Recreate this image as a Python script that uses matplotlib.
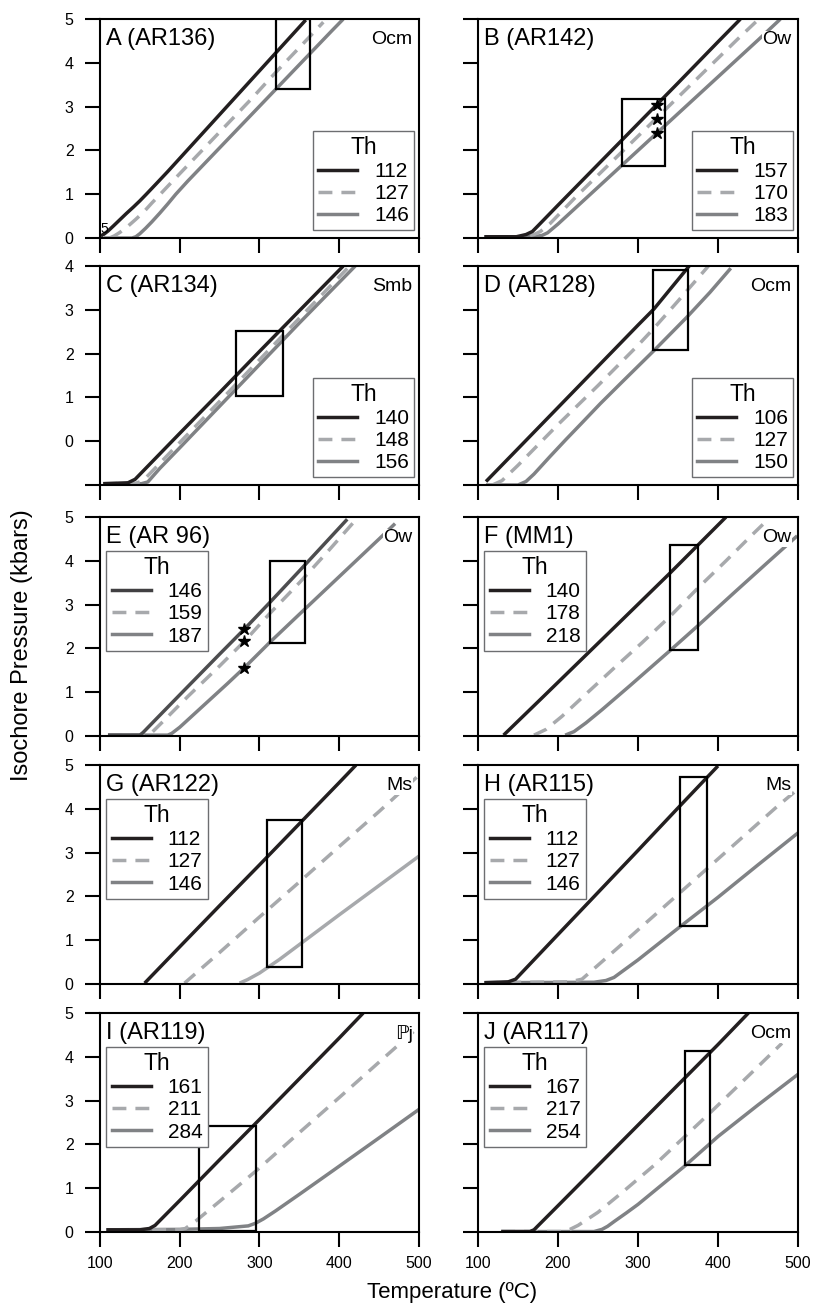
import matplotlib
matplotlib.use('Agg')
import matplotlib.pyplot as plt
from matplotlib.patches import Rectangle
from matplotlib.lines import Line2D

plt.rcParams['font.family'] = ['Liberation Sans', 'DejaVu Sans']

# ---- data: isochores (T in C, P in kbar) ----
# each panel: 3 curves (Th order), box = [Tmin, Tmax, Pmin, Pmax]
A_th = [112, 127, 146]
A_T = [[101, 105, 110, 117, 125, 133, 142, 150, 158, 170, 185, 200, 220, 240,
        260, 280, 300, 320, 340, 358],
       [112, 118, 125, 135, 145, 155, 165, 175, 190, 210, 230, 250, 270, 290,
        310, 330, 350, 363, 380],
       [105, 140, 145, 150, 157, 165, 175, 185, 195, 210, 230, 250, 270, 290,
        310, 330, 350, 370, 390, 405]]
A_P = [[0.05, 0.09, 0.16, 0.28, 0.42, 0.56, 0.71, 0.85, 1.0, 1.23, 1.52, 1.82,
        2.22, 2.62, 3.02, 3.42, 3.82, 4.22, 4.62, 4.98],
       [0.0, 0.05, 0.13, 0.27, 0.43, 0.6, 0.8, 0.99, 1.28, 1.66, 2.04, 2.42,
        2.8, 3.18, 3.58, 3.97, 4.35, 4.6, 4.93],
       [0.0, 0.0, 0.03, 0.1, 0.22, 0.37, 0.57, 0.78, 1.0, 1.3, 1.68, 2.06,
        2.44, 2.82, 3.2, 3.58, 3.96, 4.34, 4.72, 5.0]]
A_box = [321, 363, 3.4, 5.0]

B_th = [157, 170, 183]
B_T = [[108, 148, 160, 168, 175, 200, 250, 300, 350, 400, 428],
       [108, 160, 170, 178, 190, 225, 275, 325, 375, 425, 451],
       [108, 170, 180, 187, 200, 250, 300, 350, 400, 450, 478]]
B_P = [[0.03, 0.03, 0.08, 0.15, 0.28, 0.75, 1.68, 2.61, 3.54, 4.48, 5.0],
       [0.03, 0.03, 0.08, 0.15, 0.33, 0.99, 1.88, 2.77, 3.66, 4.55, 5.0],
       [0.03, 0.03, 0.06, 0.12, 0.32, 1.16, 2.0, 2.84, 3.68, 4.52, 5.0]]
B_box = [280, 334, 1.65, 3.17]
B_star_T = [323.5, 323.5, 323.5]
B_star_P = [3.03, 2.71, 2.40]

C_th = [140, 148, 156]
C_T = [[104, 135, 144, 160, 200, 250, 300, 350, 405],
       [104, 145, 154, 170, 200, 250, 300, 350, 413],
       [104, 152, 160, 175, 200, 250, 300, 350, 420]]
C_P = [[-0.97, -0.95, -0.87, -0.57, 0.18, 1.11, 2.05, 2.98, 4.0],
       [-0.97, -0.96, -0.9, -0.6, -0.03, 0.91, 1.86, 2.81, 4.0],
       [-0.97, -0.97, -0.93, -0.62, -0.15, 0.8, 1.75, 2.7, 4.0]]
C_box = [271, 329, 1.03, 2.52]

D_th = [106, 127, 150]
D_T = [[110, 150, 200, 250, 300, 320, 364],
       [118, 130, 150, 200, 250, 300, 319, 350, 388],
       [110, 150, 160, 170, 180, 190, 210, 230, 253, 280, 320, 361, 390, 416]]
D_P = [[0.08, 0.83, 1.77, 2.71, 3.65, 4.02, 5.0],
       [0, 0.1, 0.45, 1.38, 2.27, 3.19, 3.56, 4.2, 5.0],
       [0, 0, 0.08, 0.25, 0.45, 0.65, 1.04, 1.42, 1.86, 2.35, 3.07, 3.83,
        4.4, 4.95]]
D_box = [319, 362, 3.09, 4.9]

E_th = [146, 159, 187]
E_T = [[110, 150, 154, 170, 200, 250, 281, 313, 350, 380, 410],
       [110, 160, 165, 180, 210, 250, 282, 313, 350, 385, 418],
       [110, 185, 190, 200, 215, 230, 260, 281, 313, 350, 400, 450, 470]]
E_P = [[0.02, 0.02, 0.08, 0.38, 0.94, 1.87, 2.44, 3.05, 3.77, 4.36, 4.95],
       [0.02, 0.02, 0.08, 0.35, 0.9, 1.6, 2.18, 2.8, 3.5, 4.2, 4.88],
       [0.02, 0.02, 0.06, 0.2, 0.45, 0.7, 1.2, 1.56, 2.14, 2.78, 3.64, 4.5,
        4.85]]
E_box = [313, 357, 2.12, 3.99]
E_star_T = [281, 281, 281]
E_star_P = [2.44, 2.18, 1.56]

F_th = [140, 178, 218]
F_T = [[132, 180, 230, 280, 340, 410],
       [170, 185, 205, 238, 270, 305, 340, 375, 410, 443, 460],
       [209, 220, 235, 255, 290, 340, 375, 420, 460, 499]]
F_P = [[0.02, 0.87, 1.76, 2.65, 3.72, 5.0],
       [0.02, 0.15, 0.45, 1.01, 1.55, 2.13, 2.73, 3.38, 4.0, 4.6, 4.9],
       [0.02, 0.1, 0.3, 0.6, 1.15, 1.95, 2.52, 3.27, 3.93, 4.57]]
F_box = [340, 375, 1.96, 4.36]

G_th = [112, 127, 146]
G_T = [[156, 200, 250, 300, 350, 400, 421],
       [206, 250, 300, 350, 400, 450, 497],
       [275, 285, 300, 325, 350, 400, 450, 500]]
G_P = [[0.02, 0.85, 1.79, 2.72, 3.66, 4.6, 5.0],
       [0.02, 0.72, 1.53, 2.33, 3.14, 3.94, 4.72],
       [0.02, 0.1, 0.25, 0.56, 0.9, 1.58, 2.25, 2.92]]
G_box = [309, 353, 0.39, 3.75]

H_th = [112, 127, 146]
H_T = [[108, 138, 147, 200, 250, 300, 350, 400],
       [108, 215, 230, 275, 325, 375, 425, 475, 500],
       [108, 245, 260, 270, 300, 352, 400, 450, 500]]
H_P = [[0.03, 0.05, 0.11, 1.13, 2.09, 3.05, 4.02, 4.98],
       [0.03, 0.05, 0.11, 0.83, 1.64, 2.45, 3.26, 4.07, 4.45],
       [0.03, 0.04, 0.08, 0.15, 0.55, 1.3, 1.98, 2.72, 3.45]]
H_box = [352, 386, 1.33, 4.72]

I_th = [161, 211, 284]
I_T = [[108, 150, 162, 169, 200, 250, 300, 350, 400, 430],
       [108, 200, 207, 220, 250, 296, 350, 400, 450, 497],
       [108, 200, 250, 286, 295, 305, 320, 350, 392, 450, 500]]
I_P = [[0.05, 0.05, 0.08, 0.15, 0.72, 1.65, 2.57, 3.5, 4.43, 5.0],
       [0.05, 0.05, 0.08, 0.25, 0.7, 1.4, 2.27, 3.07, 3.88, 4.64],
       [0.05, 0.06, 0.08, 0.14, 0.2, 0.3, 0.48, 0.86, 1.4, 2.15, 2.8]]
I_box = [224, 296, 0.02, 2.42]

J_th = [167, 217, 254]
J_T = [[129, 165, 170, 200, 250, 300, 350, 400, 438],
       [129, 205, 215, 225, 250, 280, 320, 358, 390, 440, 480],
       [129, 245, 255, 262, 271, 285, 300, 330, 358, 400, 450, 500]]
J_P = [[0.01, 0.01, 0.05, 0.6, 1.52, 2.44, 3.36, 4.28, 5.0],
       [0.01, 0.01, 0.06, 0.15, 0.45, 0.9, 1.52, 2.17, 2.72, 3.6, 4.31],
       [0.01, 0.01, 0.06, 0.13, 0.25, 0.43, 0.63, 1.08, 1.5, 2.18, 2.9, 3.6]]
J_box = [359, 390, 1.52, 4.13]

names = ['A (AR136)', 'B (AR142)', 'C (AR134)', 'D (AR128)', 'E (AR 96)',
         'F (MM1)', 'G (AR122)', 'H (AR115)', 'I (AR119)', 'J (AR117)']
units = ['Ocm', 'Ow', 'Smb', 'Ocm', 'Ow', 'Ow', 'Ms', 'Ms', '\u2119j', 'Ocm']

# ---- colours / styles ----
BLACK = '#231f20'
LIGHT = '#a7a9ac'
MID = '#808285'
LW = 2.5
DASH = (4, 2.6)

panels = [
    (A_th, A_T, A_P, A_box, None),
    (B_th, B_T, B_P, B_box, (B_star_T, B_star_P)),
    (C_th, C_T, C_P, C_box, None),
    (D_th, D_T, D_P, D_box, None),
    (E_th, E_T, E_P, E_box, (E_star_T, E_star_P)),
    (F_th, F_T, F_P, F_box, None),
    (G_th, G_T, G_P, G_box, None),
    (H_th, H_T, H_P, H_box, None),
    (I_th, I_T, I_P, I_box, None),
    (J_th, J_T, J_P, J_box, None),
]

fig = plt.figure(figsize=(8.15, 13.08), dpi=100)

col_x = [0.1227, 0.5865]
col_w = [0.3914, 0.3926]
row_y = [0.818, 0.6292, 0.4373, 0.2477, 0.0581]
h = 0.1674

for i, (th, Ts, Ps, box, stars) in enumerate(panels):
    row, col = i // 2, i % 2
    ax = fig.add_axes([col_x[col], row_y[row], col_w[col], h])

    colors = [BLACK, LIGHT, MID]
    if i == 4:
        colors[0] = '#4d4d4f'     # E: black line is a bit lighter
    if i == 6:
        colors[2] = LIGHT          # G: third line drawn light gray

    # isochores
    ax.plot(Ts[2], Ps[2], color=colors[2], lw=LW, solid_capstyle='butt')
    ax.plot(Ts[1], Ps[1], color=colors[1], lw=LW, dashes=DASH)
    ax.plot(Ts[0], Ps[0], color=colors[0], lw=LW, solid_capstyle='butt')

    # pressure-temperature box
    ax.add_patch(Rectangle((box[0], box[2]), box[1] - box[0], box[3] - box[2],
                           fill=False, ec='black', lw=1.6, zorder=4))
    if stars is not None:
        ax.plot(stars[0], stars[1], '*', color='black', markersize=9, zorder=5)

    # axes
    ax.set_xlim(100, 500)
    ax.set_xticks([100, 200, 300, 400, 500])
    if i == 2:
        ax.set_ylim(-1, 4)
        ax.set_yticks([-1, 0, 1, 2, 3, 4])
        ax.set_yticklabels(['', '0', '1', '2', '3', '4'])
    else:
        ax.set_ylim(0, 5)
        ax.set_yticks([0, 1, 2, 3, 4, 5])
    ax.tick_params(direction='out', length=11, width=1.5, labelsize=11.5,
                   labelbottom=(row == 4), labelleft=(col == 0))
    ax.tick_params(axis='y', pad=8)
    ax.tick_params(axis='x', pad=6)
    for s in ax.spines.values():
        s.set_linewidth(1.5)

    # labels inside the panel
    ax.text(0.02, 0.91, names[i], transform=ax.transAxes, fontsize=17,
            ha='left', va='center')
    ax.text(0.98, 0.905, units[i], transform=ax.transAxes, fontsize=14,
            ha='right', va='center', zorder=6,
            bbox=dict(fc='white', ec='none', pad=0.5))
    if i == 0:
        ax.text(101, 0.05, '5', fontsize=10, ha='left', va='bottom')

    # legend
    handles = [Line2D([], [], color=BLACK if i != 4 else '#414042', lw=LW),
               Line2D([], [], color=LIGHT, lw=LW, dashes=DASH),
               Line2D([], [], color=MID, lw=LW)]
    labels = [str(t) for t in th]
    if i < 4:
        loc, anchor = 'lower right', (0.985, 0.035)
    else:
        loc, anchor = 'upper left', (0.02, 0.845)
    leg = ax.legend(handles, labels, title='Th', loc=loc, bbox_to_anchor=anchor,
                    fontsize=15, title_fontsize=16.5, frameon=True, fancybox=False,
                    edgecolor='#6d6e71', framealpha=1, borderpad=0.25,
                    labelspacing=0.15, handlelength=1.9, handletextpad=0.8,
                    borderaxespad=0)
    leg.get_frame().set_linewidth(1.0)

fig.text(0.027, 0.507, 'Isochore Pressure (kbars)', rotation=90,
         fontsize=17, ha='center', va='center')
fig.text(0.555, 0.012, 'Temperature (\u00baC)', fontsize=16,
         ha='center', va='center')

fig.savefig('out.png', dpi=100)
